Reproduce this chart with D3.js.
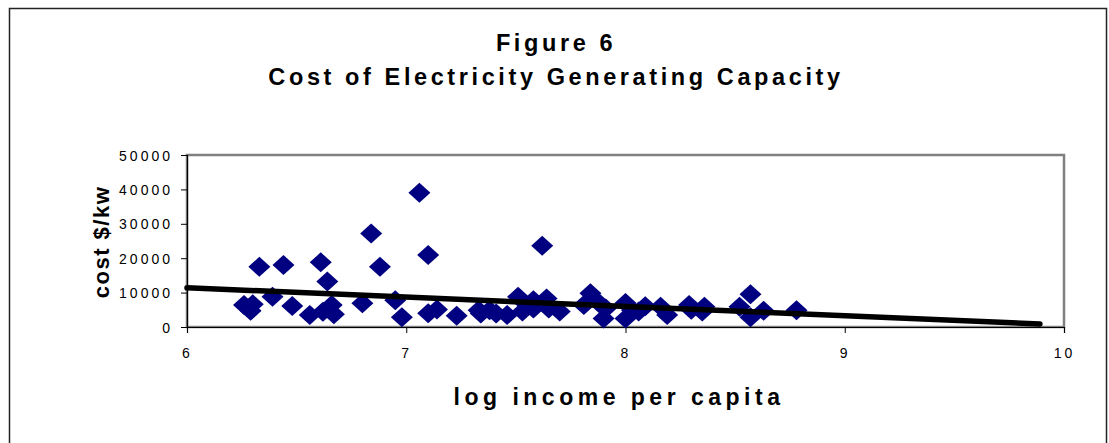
<!DOCTYPE html>
<html>
<head>
<meta charset="utf-8">
<script src="https://cdn.jsdelivr.net/npm/d3@7"></script>
<style>
  html, body { margin: 0; padding: 0; background: #fff; }
  svg { display: block; font-family: "Liberation Sans", Arial, sans-serif; }
</style>
</head>
<body>
<svg id="chart" width="1109" height="443"></svg>
<script>
// Log income per capita for each country
const incomeLog = [
  6.26, 6.29, 6.30, 6.33, 6.39, 6.44, 6.48, 6.56, 6.61, 6.64,
  6.62, 6.66, 6.67, 6.80, 6.84, 6.88, 6.95, 6.98, 7.06, 7.10,
  7.10, 7.14, 7.23, 7.33, 7.34, 7.38, 7.41, 7.46, 7.51, 7.53,
  7.58, 7.58, 7.62, 7.64, 7.65, 7.70, 7.81, 7.84, 7.88, 7.90,
  7.91, 8.00, 8.00, 8.03, 8.06, 8.09, 8.16, 8.19, 8.29, 8.30,
  8.35, 8.36, 8.52, 8.57, 8.57, 8.63, 8.78
];
// Cost of generating capacity, $ per kW
const costPerKw = [
  6400, 4700, 6600, 17500, 8800, 18000, 6100, 3500, 18800, 13200,
  4400, 6400, 3700, 6900, 27200, 17500, 7800, 2800, 39000, 20900,
  4000, 5100, 3300, 4900, 3900, 4900, 3900, 3500, 8800, 4500,
  7800, 5400, 23600, 8300, 5400, 4500, 6400, 9800, 6900, 2500,
  5400, 7000, 2500, 4900, 4500, 6000, 5900, 3500, 6400, 5000,
  4500, 5900, 5900, 9500, 2800, 4700, 4900
];
// Fitted trend line end points
const trendX = [6, 9.89];
const trendY = [11400, 900];

const xTicks = [6, 7, 8, 9, 10];
const yTicks = [0, 10000, 20000, 30000, 40000, 50000];

const svg = d3.select("#chart");

// outer chart frame
svg.append("rect")
  .attr("x", 9.5).attr("y", 8.5)
  .attr("width", 1097).attr("height", 450)
  .attr("fill", "none").attr("stroke", "#222").attr("stroke-width", 1.5);

const plot = { left: 187, right: 1064, top: 155, bottom: 327 };

const x = d3.scaleLinear().domain([6, 10]).range([plot.left, plot.right]);
const y = d3.scaleLinear().domain([0, 50000]).range([plot.bottom, plot.top]);

// plot area border
svg.append("rect")
  .attr("x", plot.left).attr("y", plot.top)
  .attr("width", plot.right - plot.left).attr("height", plot.bottom - plot.top)
  .attr("fill", "#fff").attr("stroke", "#808080").attr("stroke-width", 2.5);

// titles
svg.append("text")
  .attr("x", 556).attr("y", 51)
  .attr("text-anchor", "middle")
  .attr("font-size", 23.5).attr("font-weight", "bold")
  .attr("letter-spacing", 3.6)
  .text("Figure 6");
svg.append("text")
  .attr("x", 556).attr("y", 85)
  .attr("text-anchor", "middle")
  .attr("font-size", 23.5).attr("font-weight", "bold")
  .attr("letter-spacing", 3.6)
  .text("Cost of Electricity Generating Capacity");

// axes
const xAxis = d3.axisBottom(x).tickValues(xTicks).tickSize(6).tickFormat(d3.format("d"));
const yAxis = d3.axisLeft(y).tickValues(yTicks).tickSize(6).tickFormat(d3.format("d"));

const gx = svg.append("g").attr("transform", `translate(0,${plot.bottom})`).call(xAxis);
gx.select(".domain").attr("stroke", "#000").attr("stroke-width", 1.2);
gx.selectAll(".tick line").attr("stroke", "#000");
gx.selectAll(".tick text")
  .attr("font-size", 14).attr("letter-spacing", 3)
  .attr("font-family", "Liberation Sans, Arial, sans-serif")
  .attr("fill", "#000").attr("dy", "1.55em");

const gy = svg.append("g").attr("transform", `translate(${plot.left},0)`).call(yAxis);
gy.select(".domain").attr("stroke", "#000").attr("stroke-width", 1.2);
gy.selectAll(".tick line").attr("stroke", "#000");
gy.selectAll(".tick text")
  .attr("font-size", 14).attr("letter-spacing", 3)
  .attr("font-family", "Liberation Sans, Arial, sans-serif")
  .attr("fill", "#000").attr("x", -14).attr("dy", "0.36em");

// axis titles
svg.append("text")
  .attr("transform", "translate(109,242) rotate(-90)")
  .attr("text-anchor", "middle")
  .attr("font-size", 22).attr("font-weight", "bold")
  .attr("letter-spacing", 1.5)
  .text("cost $/kw");
svg.append("text")
  .attr("x", 619).attr("y", 405)
  .attr("text-anchor", "middle")
  .attr("font-size", 23).attr("font-weight", "bold")
  .attr("letter-spacing", 4.5)
  .text("log income per capita");

// scatter markers (diamonds)
const points = incomeLog.map((v, i) => ({ x: v, y: costPerKw[i] }));
const hw = 11, hh = 10;
svg.append("g").selectAll("path")
  .data(points)
  .join("path")
  .attr("d", d => {
    const cx = x(d.x), cy = y(d.y);
    return `M${cx},${cy - hh}L${cx + hw},${cy}L${cx},${cy + hh}L${cx - hw},${cy}Z`;
  })
  .attr("fill", "#000080");

// trend line
svg.append("line")
  .attr("x1", x(trendX[0])).attr("y1", y(trendY[0]))
  .attr("x2", x(trendX[1])).attr("y2", y(trendY[1]))
  .attr("stroke", "#000").attr("stroke-width", 5.5)
  .attr("stroke-linecap", "round");
</script>
</body>
</html>
